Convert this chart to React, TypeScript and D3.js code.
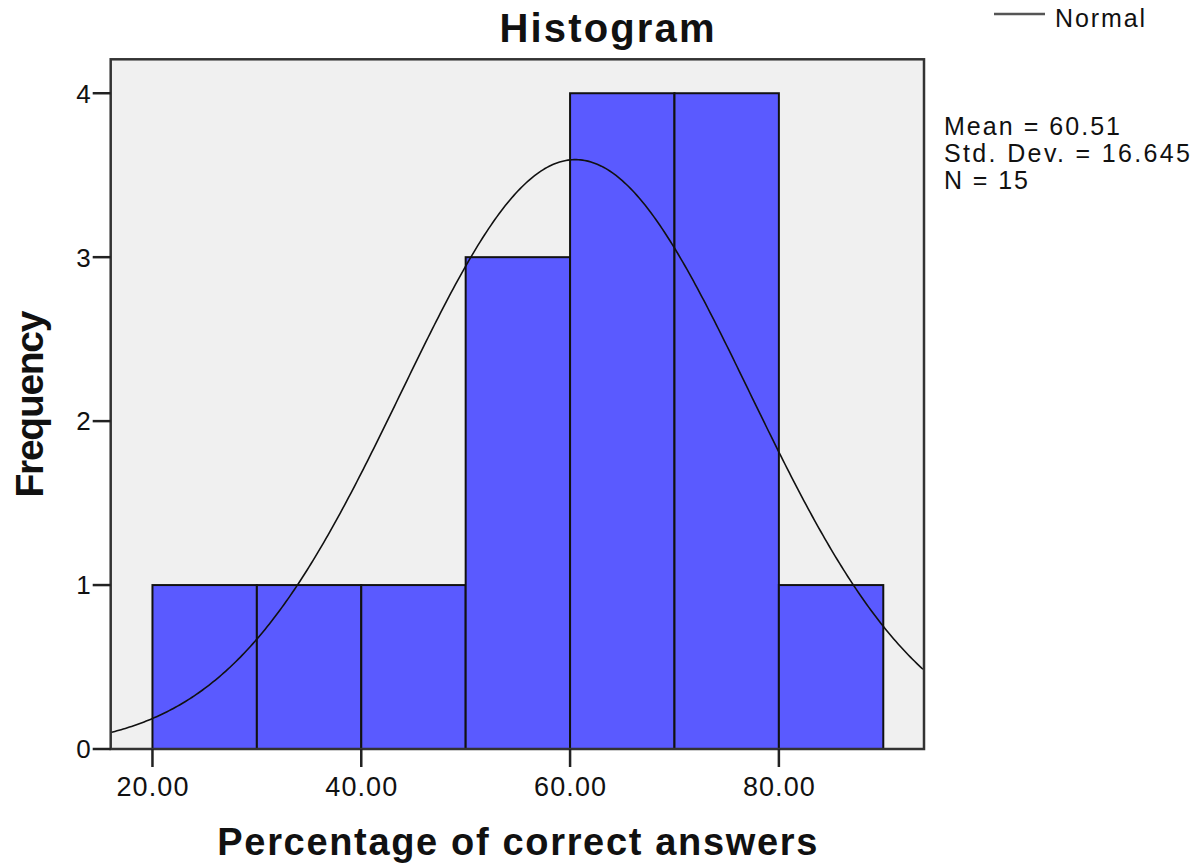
import React from 'react';
import * as d3 from 'd3';

// histogram bins (lower edge, upper edge, count)
const binStarts = [20, 30, 40, 50, 60, 70, 80];
const binEnds = [30, 40, 50, 60, 70, 80, 90];
const binCounts = [1, 1, 1, 3, 4, 4, 1];

const xTicks = [20, 40, 60, 80];
const yTicks = [0, 1, 2, 3, 4];

// fitted normal curve parameters, as printed on the chart
const mean = 60.51;
const stdDev = 16.645;
const n = 15;
const binWidth = 10;

const statLines = ['Mean = 60.51', 'Std. Dev. = 16.645', 'N = 15'];
const statWidths = [176, 246, 84];

const W = 1195;
const H = 863;
const plot = { left: 110.7, right: 924, top: 59.3, bottom: 749 };

const FONT = '"Liberation Sans", Arial, sans-serif';

const App = () => {
  const x = d3.scaleLinear().domain([16.0, 93.9]).range([plot.left, plot.right]);
  const y = d3.scaleLinear().domain([0, 4.207]).range([plot.bottom, plot.top]);

  // normal curve scaled to counts: N * binWidth * pdf
  const xs = d3.range(16.0, 93.91, 0.2);
  const pdf = (v: number) =>
    ((n * binWidth) / (stdDev * Math.sqrt(2 * Math.PI))) *
    Math.exp(-0.5 * ((v - mean) / stdDev) ** 2);
  const curve = d3
    .line<number>()
    .x((d) => x(d))
    .y((d) => y(pdf(d)))(xs);

  return (
    <svg
      width={W}
      height={H}
      style={{ position: 'absolute', left: 0, top: 0, background: '#fff' }}
    >
      <defs>
        <clipPath id="plotClip">
          <rect x={plot.left} y={plot.top} width={plot.right - plot.left} height={plot.bottom - plot.top} />
        </clipPath>
      </defs>

      {/* plot background */}
      <rect
        x={plot.left}
        y={plot.top}
        width={plot.right - plot.left}
        height={plot.bottom - plot.top}
        fill="#f0f0f0"
      />

      {/* bars */}
      {binCounts.map((c, i) => (
        <rect
          key={i}
          x={x(binStarts[i])}
          y={y(c)}
          width={x(binEnds[i]) - x(binStarts[i])}
          height={y(0) - y(c)}
          fill="#5a5aff"
          stroke="#111"
          strokeWidth={2}
        />
      ))}

      {/* normal curve */}
      <path d={curve || ''} fill="none" stroke="#111" strokeWidth={1.6} clipPath="url(#plotClip)" />

      {/* frame */}
      <rect
        x={plot.left}
        y={plot.top}
        width={plot.right - plot.left}
        height={plot.bottom - plot.top}
        fill="none"
        stroke="#333"
        strokeWidth={2.5}
      />

      {/* y axis ticks */}
      {yTicks.map((t) => (
        <g key={t}>
          <line x1={plot.left - 18} x2={plot.left} y1={y(t)} y2={y(t)} stroke="#222" strokeWidth={2.5} />
          <text
            x={plot.left - 20}
            y={y(t)}
            dy="0.36em"
            textAnchor="end"
            fontFamily={FONT}
            fontSize={26}
            fill="#111"
          >
            {t}
          </text>
        </g>
      ))}

      {/* x axis ticks */}
      {xTicks.map((t) => (
        <g key={t}>
          <line x1={x(t)} x2={x(t)} y1={plot.bottom} y2={plot.bottom + 18} stroke="#222" strokeWidth={2.5} />
          <text
            x={x(t)}
            y={plot.bottom + 47}
            textAnchor="middle"
            fontFamily={FONT}
            fontSize={27}
            fill="#111"
            textLength={72}
            lengthAdjust="spacing"
          >
            {d3.format('.2f')(t)}
          </text>
        </g>
      ))}

      {/* title */}
      <text
        x={607}
        y={42}
        textAnchor="middle"
        fontFamily={FONT}
        fontWeight="bold"
        fontSize={40}
        fill="#111"
        textLength={215}
        lengthAdjust="spacing"
      >
        Histogram
      </text>

      {/* axis titles */}
      <text
        x={(plot.left + plot.right) / 2}
        y={855}
        textAnchor="middle"
        fontFamily={FONT}
        fontWeight="bold"
        fontSize={38}
        fill="#111"
        textLength={600}
        lengthAdjust="spacing"
      >
        Percentage of correct answers
      </text>
      <text
        transform={`translate(43, 404) rotate(-90)`}
        textAnchor="middle"
        fontFamily={FONT}
        fontWeight="bold"
        fontSize={39}
        fill="#111"
        textLength={187}
        lengthAdjust="spacing"
      >
        Frequency
      </text>

      {/* legend */}
      <line x1={994} x2={1045} y1={14} y2={14} stroke="#555" strokeWidth={2.5} />
      <text x={1055} y={27} fontFamily={FONT} fontSize={25} fill="#111" textLength={90} lengthAdjust="spacing">
        Normal
      </text>

      {/* stats */}
      {statLines.map((s, i) => (
        <text
          key={s}
          x={944}
          y={135 + i * 27}
          fontFamily={FONT}
          fontSize={25}
          fill="#111"
          textLength={statWidths[i]}
          lengthAdjust="spacing"
        >
          {s}
        </text>
      ))}
    </svg>
  );
};

export default App;
